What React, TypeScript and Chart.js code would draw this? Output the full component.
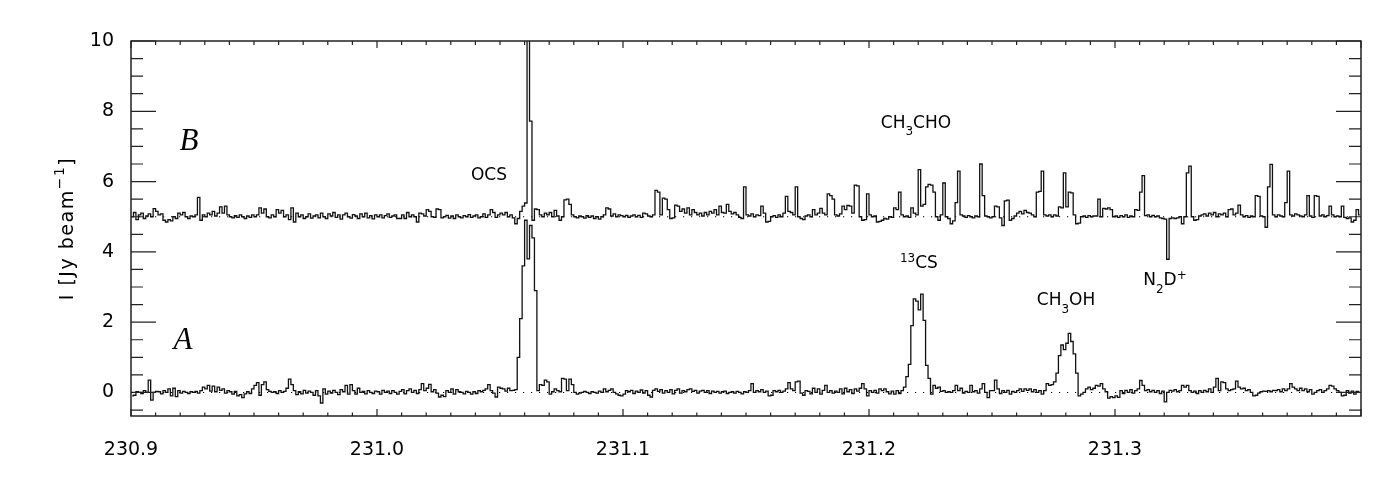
import { useEffect, useRef } from "react";
import { Chart, registerables } from "chart.js";

Chart.register(...registerables);

// ---- axes ----
const X_MIN = 230.9;
const X_MAX = 231.4;
const Y_MIN = -0.67;
const Y_MAX = 10;
const X_TICKS = [230.9, 231.0, 231.1, 231.2, 231.3];
const Y_TICKS = [0, 2, 4, 6, 8, 10];
const X_MINOR_STEP = 0.01;
const Y_MINOR_STEP = 0.5;

// ---- channels (GHz) ----
const FREQ_START = 230.9005;
const CHANNEL_WIDTH = 0.001;

// ---- spectrum A (Jy/beam) ----
const spectrumA = [
  -0.1, -0.08, 0.02, 0, -0.03, 0.05, 0, 0.35, -0.22, 0, 0.03, 0.02, -0.04, 0.05, 0, 0.1, -0.1, 0.12, -0.12, 0.05, -0.02, 0.03, 0, -0.03, 0.02,
  0, 0.03, -0.02, 0.05, 0.15, 0.1, 0.2, 0.04, 0.18, 0.02, 0.15, 0.06, 0.1, -0.02, 0.05, 0.02, -0.05, 0.03, -0.1, -0.06, -0.15, -0.04, 0.02, -0.03, 0.1,
  0.2, 0.28, -0.08, 0.22, 0.3, 0.08, 0.03, 0, 0.02, -0.03, 0.05, 0, 0.03, 0.12, 0.38, 0.22, 0.05, -0.06, 0.02, -0.04, 0.06, -0.02, 0.04, 0, -0.08,
  0.05, -0.1, -0.3, 0.1, -0.05, 0.04, -0.02, 0.06, 0, -0.06, 0.08, 0.02, 0.2, -0.05, 0.22, 0.05, -0.05, 0.12, 0, 0.03, -0.04, 0.05, 0, -0.03, 0.04,
  0.02, -0.05, 0.06, 0, 0.04, -0.03, 0.05, 0, -0.05, 0.03, 0.08, -0.04, 0.05, 0.1, 0, 0.06, -0.03, 0.08, 0.25, 0.05, 0.12, 0.23, 0.02, 0.08, -0.02,
  -0.13, -0.08, -0.12, 0.05, 0, 0.1, -0.05, 0.08, 0.02, 0, -0.04, 0.03, 0, -0.05, 0.02, -0.03, 0.05, 0.02, 0.06, 0.1, 0.22, 0.05, -0.02, -0.13, 0.15,
  0.12, 0.1, 0.04, 0.12, 0.05, 0.06, 0.08, 1.0, 2.1, 3.6, 4.9, 3.8, 4.75, 4.4, 2.9, 0.05, 0.22, 0.2, 0.35, 0.3, -0.05, 0.02, 0.1, 0.05, 0.02,
  0.4, 0.38, 0.05, 0.38, 0.22, 0, -0.05, -0.02, 0, 0.03, 0, -0.03, 0.02, 0, -0.02, 0.04, 0, 0.1, 0.02, 0.06, 0.1, 0, -0.04, -0.08, -0.1,
  -0.05, 0.05, 0.02, 0.06, -0.03, 0.04, 0, 0.07, -0.02, 0.05, -0.08, -0.13, 0.06, 0.1, 0.03, 0.08, -0.02, 0.05, 0, 0.08, -0.04, 0.06, 0.1, -0.02, 0.05,
  0.02, 0.08, 0.1, 0.03, 0.06, -0.02, 0.04, 0.06, 0, 0.05, -0.03, 0.04, 0, 0.03, -0.02, 0.02, 0.04, -0.03, 0, 0.02, -0.02, 0.03, 0, -0.04, 0.02,
  0, 0.05, 0.25, 0, 0.05, 0.02, 0.08, 0, 0.04, -0.1, -0.08, 0.05, 0.02, 0.06, 0, 0.04, 0.1, 0.28, 0.1, 0.05, 0.3, 0.32, -0.02, -0.08, 0.05,
  0.03, -0.04, 0.12, 0, 0.1, -0.05, 0.06, 0.2, 0, 0.05, -0.02, 0.04, 0, 0.1, -0.04, 0.12, 0.02, 0.08, -0.03, 0.1, 0.04, 0.12, 0.25, 0.1, -0.1,
  0.05, 0, 0.06, -0.02, 0.1, 0.05, 0.1, 0.02, -0.04, 0.04, -0.05, 0.05, -0.03, 0.05, 0.15, 0.45, 0.8, 1.9, 2.66, 2.6, 2.35, 2.8, 2.05, 0.77, 0.4,
  -0.05, 0.2, 0.12, 0.15, 0.03, 0.05, 0, 0.02, 0, 0.05, 0.2, 0.05, 0.12, -0.02, 0.03, 0, 0.2, 0.02, 0.05, -0.02, 0.1, 0.25, 0, -0.15, 0.05,
  0.05, 0.35, 0.1, -0.03, 0.05, 0, 0.06, -0.05, 0.03, 0, 0.05, 0.1, 0.03, 0.1, 0.06, 0.1, 0.02, 0.08, 0, 0.05, -0.05, 0.05, 0.25, 0.2, 0.22,
  0.3, 0.55, 1.05, 1.35, 1.22, 1.4, 1.68, 1.45, 1.1, 0.55, -0.1, -0.05, 0, 0.1, 0.15, 0.08, 0.12, 0.2, 0.18, 0.25, 0.1, 0.02, -0.16, -0.12, -0.15,
  -0.1, -0.14, 0.05, -0.03, 0.06, 0, 0.08, -0.02, 0.05, 0.1, 0.34, 0.2, 0.05, 0.08, 0.02, 0.06, 0, 0.05, -0.03, 0.04, -0.27, 0, 0.06, 0.04, 0.08,
  0.02, 0.05, 0.2, 0.15, 0.2, 0.05, 0, 0.04, -0.03, 0.05, 0, 0.06, 0.02, 0.1, 0, 0.15, 0.4, 0.05, 0.3, 0.28, 0.1, 0.05, 0.08, 0.1, 0.32,
  0.15, 0.1, 0.12, 0.05, 0.08, 0, -0.1, -0.08, -0.02, 0.02, 0.04, 0.03, 0.05, 0.02, 0.06, 0.05, 0.08, 0.02, 0.1, 0.05, 0.1, 0.25, 0.15, 0.1, 0.05,
  0.12, 0.05, 0.1, 0.02, 0.08, -0.05, 0, 0.05, 0.08, 0, 0.05, 0.1, 0.2, 0.18, 0.1, 0.05, 0, -0.1, -0.08, 0.05, -0.02, 0.04, -0.05, 0.03, 0,
];

// ---- spectrum B (Jy/beam, plotted with +5 offset) ----
const spectrumB = [
  5.0, 5.12, 4.92, 5.05, 5.1, 4.95, 5.02, 5.08, 5.0, 5.23, 5.15, 5.05, 5.08, 4.9, 4.85, 4.92, 4.88, 5.0, 4.95, 5.1, 5.05, 5.12, 5.0, 4.95, 5.02,
  5.0, 5.05, 5.55, 4.9, 5.05, 5.0, 5.1, 5.05, 5.15, 5.02, 5.1, 5.28, 5.1, 5.3, 5.05, 5.0, 4.97, 5.03, 4.98, 5.05, 5.0, 4.95, 5.02, 4.98, 5.05,
  5.0, 5.05, 5.25, 5.1, 5.22, 5.0, 4.97, 5.05, 5.0, 5.2, 5.1, 5.18, 5.0, 5.05, 4.92, 5.25, 4.85, 5.1, 5.0, 5.05, 4.95, 5.0, 5.08, 4.96, 5.02,
  5.05, 4.97, 5.1, 5.0, 4.95, 5.08, 5.02, 5.12, 4.98, 5.05, 4.93, 5.05, 5.1, 5.0, 4.96, 5.06, 5.02, 4.95, 5.08, 5.0, 5.1, 4.97, 5.03, 4.94, 5.05,
  5.0, 5.05, 4.97, 5.03, 5.08, 4.98, 5.02, 5.05, 4.95, 4.95, 5.05, 4.95, 5.12, 5.0, 5.05, 5.0, 4.85, 5.1, 5.08, 5.02, 5.2, 5.15, 5.0, 4.98, 5.22,
  5.2, 4.97, 5.0, 5.04, 4.96, 5.02, 4.95, 5.05, 5.0, 4.97, 5.03, 5.0, 5.06, 4.98, 5.02, 5.05, 4.97, 5.0, 5.08, 4.98, 5.05, 5.2, 5.12, 4.98, 5.05,
  5.1, 5.05, 5.12, 5.0, 5.05, 4.97, 4.8, 4.95, 5.15, 5.3, 5.39, 11.0, 7.72, 4.9, 5.22, 5.2, 5.05, 5.0, 5.1, 5.05, 5.12, 5.0, 5.18, 5.02, 4.9,
  5.0, 5.48, 5.5, 5.35, 5.05, 5.0, 4.97, 5.02, 5.0, 4.96, 5.03, 4.98, 5.02, 4.95, 5.0, 4.93, 5.0, 5.05, 5.25, 5.22, 5.02, 5.08, 5.0, 5.05, 5.03,
  5.0, 5.04, 4.98, 5.02, 5.05, 5.0, 5.04, 4.98, 5.1, 5.08, 5.02, 5.0, 5.05, 5.75, 5.7, 5.05, 5.53, 5.5, 5.2, 4.95, 4.97, 5.33, 5.3, 5.15, 5.22,
  5.1, 5.25, 5.05, 5.2, 5.12, 5.05, 5.1, 5.02, 5.12, 5.05, 5.15, 5.1, 5.2, 5.05, 5.3, 5.12, 5.1, 5.35, 5.15, 5.08, 5.12, 5.05, 4.98, 4.95, 5.85,
  5.05, 5.02, 5.08, 5.0, 5.05, 5.03, 5.3, 5.1, 4.85, 4.87, 5.0, 5.03, 4.98, 5.05, 5.0, 5.1, 5.58, 5.15, 5.12, 5.05, 5.85, 5.0, 4.95, 4.92, 5.02,
  5.05, 5.0, 5.2, 5.05, 5.1, 5.24, 5.1, 5.05, 5.65, 5.6, 5.5, 5.05, 5.02, 5.08, 5.3, 5.2, 5.32, 5.3, 5.1, 5.9, 5.88, 5.0, 4.9, 4.92, 5.65,
  5.05, 5.0, 5.02, 4.85, 4.87, 4.9, 4.95, 4.93, 5.0, 4.98, 5.25, 5.2, 5.7, 5.05, 5.0, 5.02, 4.98, 5.25, 5.1, 5.05, 6.34, 5.3, 5.35, 5.85, 5.92,
  5.9, 5.7, 5.0, 4.9, 5.05, 5.96, 5.0, 4.95, 4.8, 4.88, 5.4, 6.3, 5.05, 5.02, 4.98, 5.03, 5.0, 4.97, 5.02, 5.0, 6.5, 5.6, 5.02, 5.0, 4.97,
  5.0, 5.3, 5.28, 4.97, 4.75, 5.45, 5.47, 4.9, 4.95, 5.02, 5.1, 5.15, 5.08, 5.18, 5.12, 5.1, 5.05, 5.0, 5.7, 5.72, 6.3, 5.05, 5.02, 5.05, 5.0,
  5.05, 5.02, 5.28, 5.25, 6.25, 5.28, 5.7, 5.68, 5.05, 4.8, 4.82, 5.0, 5.02, 4.98, 5.03, 5.0, 5.02, 5.02, 5.5, 5.0, 5.24, 5.22, 5.25, 5.2, 5.0,
  5.02, 4.98, 5.03, 5.0, 5.05, 4.98, 5.02, 5.0, 5.2, 5.18, 5.7, 6.17, 5.03, 5.05, 5.0, 5.04, 5.0, 5.02, 4.97, 4.95, 4.93, 3.79, 4.95, 4.97, 4.95,
  4.97, 5.0, 4.8, 5.0, 6.25, 6.44, 5.0, 4.9, 4.92, 5.02, 5.05, 5.08, 5.02, 5.1, 5.05, 5.12, 5.0, 5.08, 5.05, 5.1, 5.0, 5.2, 5.22, 5.05, 5.1,
  5.33, 5.05, 5.0, 5.03, 4.98, 5.02, 5.0, 5.6, 5.58, 5.02, 5.0, 4.7, 5.85, 6.49, 5.05, 5.0, 5.05, 5.02, 5.0, 5.4, 6.3, 5.05, 5.02, 5.08, 5.05,
  5.02, 5.0, 5.05, 5.6, 5.02, 4.98, 5.6, 5.58, 5.02, 5.05, 5.0, 5.03, 5.3, 5.05, 5.0, 5.02, 5.0, 5.3, 4.98, 4.95, 4.97, 4.85, 4.9, 5.2, 5.05,
];

// ---- reference (dotted) levels ----
const baselines = [0, 5];

// ---- text labels (data coordinates) ----
const panelLabels = [
  { text: "B", x: 230.9236, y: 7.14 },
  { text: "A", x: 230.9211, y: 1.46 },
];
// part kinds: 0 normal, -1 subscript, 1 superscript
const lineLabels: { parts: [string, number][]; x: number; y: number }[] = [
  { parts: [["OCS", 0]], x: 231.0455, y: 6.17 },
  { parts: [["CH", 0], ["3", -1], ["CHO", 0]], x: 231.2191, y: 7.66 },
  { parts: [["13", 1], ["CS", 0]], x: 231.2203, y: 3.67 },
  { parts: [["CH", 0], ["3", -1], ["OH", 0]], x: 231.2801, y: 2.6 },
  { parts: [["N", 0], ["2", -1], ["D", 0], ["+", 1]], x: 231.3203, y: 3.17 },
];
const yTitleParts: [string, number][] = [["I [Jy beam", 0], ["\u22121", 1], ["]", 0]];

const FONT = '"DejaVu Sans", sans-serif';

function drawParts(
  ctx: CanvasRenderingContext2D,
  parts: [string, number][],
  cx: number,
  cy: number,
  size: number,
  subSize: number,
  subDy: number,
  supDy: number
) {
  const widths = parts.map(([t, k]) => {
    ctx.font = `${k === 0 ? size : subSize}px ${FONT}`;
    return ctx.measureText(t).width;
  });
  const total = widths.reduce((a, b) => a + b, 0);
  let x = cx - total / 2;
  ctx.textAlign = "left";
  ctx.textBaseline = "middle";
  parts.forEach(([t, k], i) => {
    ctx.font = `${k === 0 ? size : subSize}px ${FONT}`;
    const dy = k === -1 ? subDy : k === 1 ? supDy : 0;
    ctx.fillText(t, x, cy + dy);
    x += widths[i];
  });
}

const decorPlugin = {
  id: "decor",
  afterDraw(chart: any) {
    const { ctx, chartArea } = chart;
    const { left, right, top, bottom } = chartArea;
    const xs = chart.scales.x;
    const ys = chart.scales.y;
    ctx.save();
    ctx.strokeStyle = "#222";
    ctx.lineWidth = 1.2;
    ctx.beginPath();
    const nx = Math.round((X_MAX - X_MIN) / X_MINOR_STEP);
    for (let k = 0; k <= nx; k++) {
      const px = xs.getPixelForValue(X_MIN + k * X_MINOR_STEP);
      const major = k % 10 === 0;
      ctx.moveTo(px, bottom);
      ctx.lineTo(px, bottom - (major ? 7 : 3.5));
      ctx.moveTo(px, top);
      ctx.lineTo(px, top + (major ? 7 : 4));
    }
    for (let k = Math.ceil(Y_MIN / Y_MINOR_STEP); k * Y_MINOR_STEP <= Y_MAX + 1e-9; k++) {
      const py = ys.getPixelForValue(k * Y_MINOR_STEP);
      const len = k % 4 === 0 ? 25 : 12;
      ctx.moveTo(left, py);
      ctx.lineTo(left + len, py);
      ctx.moveTo(right, py);
      ctx.lineTo(right - len, py);
    }
    ctx.stroke();
    ctx.lineWidth = 1.5;
    ctx.strokeRect(left, top, right - left, bottom - top);

    ctx.fillStyle = "#000";
    // panel letters
    ctx.font = 'italic 31px "Liberation Serif", serif';
    ctx.textAlign = "center";
    ctx.textBaseline = "middle";
    panelLabels.forEach((l) => {
      ctx.fillText(l.text, xs.getPixelForValue(l.x), ys.getPixelForValue(l.y));
    });
    // line labels
    lineLabels.forEach((l) => {
      drawParts(ctx, l.parts, xs.getPixelForValue(l.x), ys.getPixelForValue(l.y), 17, 12, 9, -5);
    });
    // y title
    ctx.save();
    ctx.translate(68, (top + bottom) / 2);
    ctx.rotate(-Math.PI / 2);
    (ctx as any).letterSpacing = "1.5px";
    drawParts(ctx, yTitleParts, 0, 0, 19, 14, 9, -8);
    ctx.restore();
    ctx.restore();
  },
};

export default function App() {
  const ref = useRef<HTMLCanvasElement | null>(null);

  useEffect(() => {
    document.body.style.margin = "0";
    if (!ref.current) return;
    const toPoints = (arr: number[]) =>
      arr.map((v, i) => ({ x: FREQ_START + i * CHANNEL_WIDTH, y: v }));
    const spectrumStyle = {
      borderColor: "#111",
      borderWidth: 1.3,
      pointRadius: 0,
      fill: false,
      stepped: "middle" as const,
      clip: 0,
    };
    const chart = new Chart(ref.current, {
      type: "line",
      data: {
        datasets: [
          { label: "A", data: toPoints(spectrumA), ...spectrumStyle },
          { label: "B", data: toPoints(spectrumB), ...spectrumStyle },
          ...baselines.map((b) => ({
            label: `level ${b}`,
            data: [
              { x: X_MIN, y: b },
              { x: X_MAX, y: b },
            ],
            borderColor: "#000",
            borderWidth: 1.1,
            borderDash: [1.2, 6.8],
            pointRadius: 0,
            fill: false,
          })),
        ],
      },
      options: {
        responsive: false,
        animation: false,
        devicePixelRatio: 1,
        layout: { padding: { top: 41, right: 39, left: 0, bottom: 0 } },
        plugins: { legend: { display: false }, tooltip: { enabled: false } },
        scales: {
          x: {
            type: "linear",
            min: X_MIN,
            max: X_MAX,
            grid: { display: false },
            border: { display: false },
            ticks: {
              color: "#000",
              font: { family: "DejaVu Sans", size: 19 },
              padding: 15,
              maxRotation: 0,
              autoSkip: false,
              callback: (v: any) => Number(v).toFixed(1),
            },
            afterBuildTicks: (s: any) => {
              s.ticks = X_TICKS.map((v) => ({ value: v }));
            },
            afterFit: (s: any) => {
              s.height = 84;
            },
          },
          y: {
            type: "linear",
            min: Y_MIN,
            max: Y_MAX,
            grid: { display: false },
            border: { display: false },
            ticks: {
              color: "#000",
              font: { family: "DejaVu Sans", size: 19 },
              padding: 9,
              callback: (v: any) => String(v),
            },
            afterBuildTicks: (s: any) => {
              s.ticks = Y_TICKS.map((v) => ({ value: v }));
            },
            afterFit: (s: any) => {
              s.width = 131;
            },
          },
        },
      },
      plugins: [decorPlugin],
    });
    return () => chart.destroy();
  }, []);

  return (
    <canvas
      ref={ref}
      width={1400}
      height={500}
      style={{ display: "block", width: 1400, height: 500 }}
    />
  );
}
